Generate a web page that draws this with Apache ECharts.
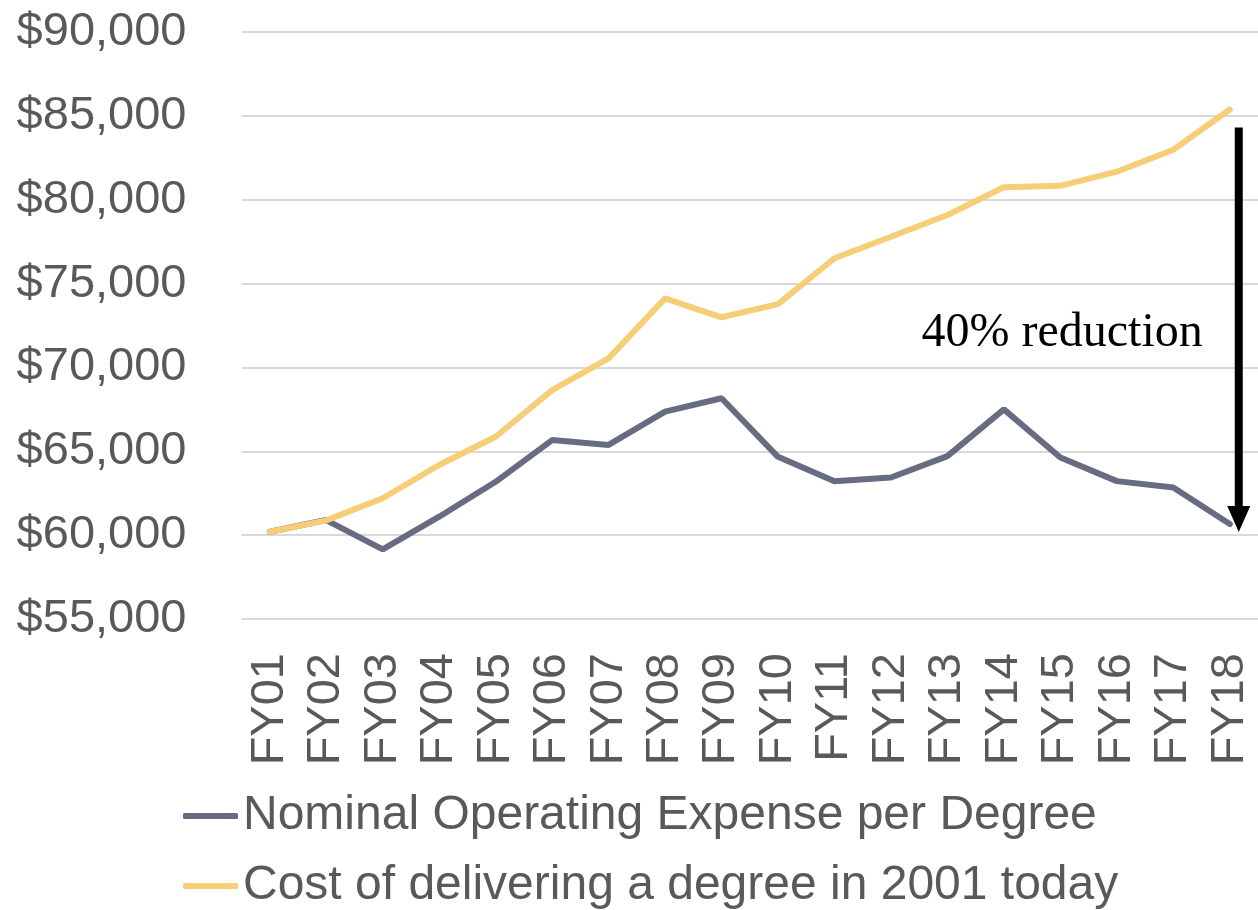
<!DOCTYPE html>
<html>
<head>
<meta charset="utf-8">
<script src="https://cdn.jsdelivr.net/npm/echarts@6.0.0/dist/echarts.min.js"></script>
<style>
html,body{margin:0;padding:0;background:#fff;}
#chart{width:1258px;height:910px;}
</style>
</head>
<body>
<div id="chart"></div>
<script>
const categories = ['FY01','FY02','FY03','FY04','FY05','FY06','FY07','FY08','FY09','FY10','FY11','FY12','FY13','FY14','FY15','FY16','FY17','FY18'];
const nominalExpense = [60200, 60900, 59150, 61100, 63180, 65670, 65380, 67360, 68160, 64670, 63220, 63440, 64710, 67500, 64630, 63220, 62840, 60660];
const cost2001Today = [60200, 60880, 62200, 64180, 65870, 68650, 70540, 74120, 72990, 73770, 76510, 77790, 79090, 80740, 80830, 81670, 82980, 85380];
const seriesNames = ['Nominal Operating Expense per Degree', 'Cost of delivering a degree in 2001 today'];
const yTicks = {min: 55000, max: 90000, interval: 5000};
const annotation = {text: '40% reduction', fromValue: 84300, toValue: 60180, textValue: 72000};

const chart = echarts.init(document.getElementById('chart'));
const font = 'Liberation Sans, Arial, sans-serif';
const grey = '#595959';
function fmt(v){ return '$' + String(v).replace(/\B(?=(\d{3})+(?!\d))/g, ','); }
function legendRow(name, top){
  return {
    orient: 'horizontal', left: 183, top: top, padding: 0,
    icon: 'roundRect', itemWidth: 55, itemHeight: 6,
    textStyle: {color: grey, fontSize: 48, fontFamily: font, lineHeight: 46, padding: [0,0,0,0]},
    data: [name]
  };
}

chart.setOption({
  animation: false,
  grid: {left: 241.5, right: -8.4, top: 32, bottom: 291, containLabel: false},
  xAxis: {
    type: 'category',
    data: categories,
    boundaryGap: true,
    axisLine: {show: false},
    axisTick: {show: false},
    axisLabel: {rotate: 90, margin: 34, color: grey, fontSize: 47, fontFamily: font, interval: 0}
  },
  yAxis: {
    type: 'value',
    min: yTicks.min, max: yTicks.max, interval: yTicks.interval,
    axisLine: {show: false},
    axisTick: {show: false},
    splitLine: {lineStyle: {color: '#d9d9d9', width: 2}},
    axisLabel: {margin: 55, color: grey, fontSize: 47, fontFamily: font, formatter: fmt}
  },
  legend: [legendRow(seriesNames[0], 792), legendRow(seriesNames[1], 862)],
  series: [
    {
      name: seriesNames[0], type: 'line', data: nominalExpense,
      symbol: 'none', lineStyle: {color: '#676c80', width: 6, cap: 'round'},
      itemStyle: {color: '#676c80'}, z: 2
    },
    {
      name: seriesNames[1], type: 'line', data: cost2001Today,
      symbol: 'none', lineStyle: {color: '#f6ce78', width: 6, cap: 'round'},
      itemStyle: {color: '#f6ce78'}, z: 3
    }
  ]
});

const last = categories[categories.length - 1];
const pTop = chart.convertToPixel({gridIndex: 0}, [last, annotation.fromValue]);
const pTip = chart.convertToPixel({gridIndex: 0}, [last, annotation.toValue]);
const pText = chart.convertToPixel({gridIndex: 0}, [last, annotation.textValue]);
const ax = pTop[0] + 9;
const headLen = 26, headW = 23;
chart.setOption({
  graphic: [
    {type: 'line', shape: {x1: ax, y1: pTop[1], x2: ax, y2: pTip[1] - headLen + 2}, style: {stroke: '#000', lineWidth: 8}, z: 10},
    {type: 'polygon', shape: {points: [[ax - headW/2, pTip[1] - headLen], [ax + headW/2, pTip[1] - headLen], [ax, pTip[1]]]}, style: {fill: '#000'}, z: 10},
    {type: 'text', x: ax - 36, y: pText[1], style: {text: annotation.text, fill: '#000', font: '48px "Liberation Serif", "Times New Roman", serif', textAlign: 'right', textVerticalAlign: 'middle'}, z: 10}
  ]
});
</script>
</body>
</html>
